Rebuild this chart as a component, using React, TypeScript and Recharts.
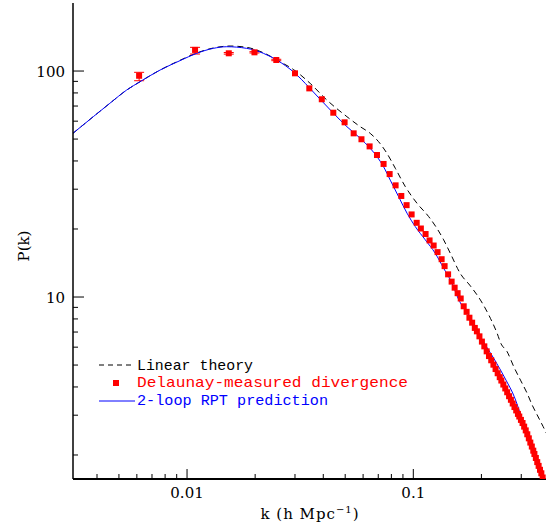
import React from 'react';
import { ComposedChart, Line, Scatter, XAxis, YAxis, ErrorBar } from 'recharts';

// Linear theory (black dashed)
const linearK = [0.00313, 0.00385, 0.00456, 0.00541, 0.0062, 0.0076, 0.0093, 0.01104, 0.01307, 0.0155, 0.01834, 0.02174, 0.02577, 0.02947, 0.035, 0.0415, 0.0509, 0.0583, 0.0645, 0.0702, 0.0765, 0.0833, 0.0922, 0.1038, 0.1169, 0.1273, 0.1362, 0.1458, 0.1614, 0.1787, 0.198, 0.2192, 0.2347, 0.2437, 0.2598, 0.2779, 0.2976, 0.3185, 0.3351, 0.3526, 0.3749, 0.3878];
const linearP = [53.0, 62.8, 72.0, 82.4, 89.7, 101.0, 111.5, 120.2, 126.5, 129.0, 127.3, 120.5, 109.9, 101.7, 88.2, 74.4, 62.8, 56.7, 53.0, 48.7, 43.2, 37.1, 30.8, 26.0, 22.7, 20.1, 17.9, 15.6, 12.7, 11.2, 9.7, 8.05, 6.91, 6.24, 5.73, 4.92, 4.29, 3.75, 3.33, 3.01, 2.67, 2.49];

// 2-loop RPT prediction (blue)
const rptK = [0.00313, 0.00385, 0.00456, 0.00541, 0.0062, 0.0076, 0.0093, 0.01104, 0.01307, 0.01498, 0.01834, 0.02174, 0.02491, 0.02982, 0.0346, 0.0388, 0.0444, 0.0509, 0.0583, 0.0645, 0.0691, 0.0739, 0.0791, 0.0861, 0.0938, 0.102, 0.113, 0.1251, 0.1362, 0.1484, 0.1577, 0.1787, 0.198, 0.2266, 0.2568, 0.2795, 0.2992];
const rptP = [53.0, 62.8, 72.0, 82.4, 89.7, 101.0, 111.1, 119.8, 126.0, 128.1, 126.0, 119.8, 111.9, 98.3, 84.7, 74.9, 65.0, 56.7, 50.4, 45.5, 41.8, 37.7, 32.9, 27.8, 23.5, 20.5, 17.9, 15.6, 13.4, 11.5, 9.87, 8.1, 6.67, 5.36, 4.29, 3.62, 2.98];

// Delaunay-measured divergence (red squares)
const measK = [0.00614, 0.01085, 0.01529, 0.01986, 0.0248, 0.0300, 0.0347, 0.0394, 0.0443, 0.0497, 0.0545, 0.0590, 0.0641, 0.0691, 0.0739, 0.0786, 0.0835, 0.0885, 0.0934, 0.0983, 0.1035, 0.108, 0.1133, 0.118, 0.123, 0.128, 0.1334, 0.1375, 0.1425, 0.1477, 0.1523, 0.157, 0.162, 0.167, 0.172, 0.177, 0.182, 0.187, 0.191, 0.196, 0.201, 0.206, 0.211, 0.216, 0.221, 0.226, 0.231, 0.236, 0.241, 0.245, 0.250, 0.255, 0.260, 0.265, 0.270, 0.275, 0.280, 0.285, 0.290, 0.294, 0.299, 0.304, 0.309, 0.314, 0.319, 0.324, 0.329, 0.334, 0.339, 0.343, 0.348, 0.353, 0.358, 0.363, 0.368, 0.373, 0.378, 0.383];
const measP = [95.3, 124.0, 119.8, 121.0, 111.9, 97.7, 83.8, 75.0, 65.4, 59.3, 53.0, 49.9, 46.4, 42.5, 38.8, 35.0, 31.2, 28.0, 25.5, 23.2, 21.3, 20.1, 19.0, 17.8, 16.9, 15.8, 14.7, 13.7, 12.6, 11.7, 11.0, 10.4, 9.85, 9.1, 8.6, 8.1, 7.7, 7.3, 7.05, 6.7, 6.35, 6.05, 5.75, 5.48, 5.25, 5.02, 4.80, 4.60, 4.42, 4.27, 4.10, 3.94, 3.79, 3.64, 3.51, 3.38, 3.26, 3.15, 3.04, 2.96, 2.86, 2.77, 2.67, 2.57, 2.47, 2.37, 2.27, 2.18, 2.09, 2.02, 1.94, 1.86, 1.79, 1.72, 1.66, 1.59, 1.53, 1.47];
// error bars only visible on the first few points
const measErrLow = [4.7, 5.1, 1.0, 0.8, 0.8];
const measErrHigh = [3.4, 3.3, 1.0, 0.8, 0.8];

const xTicks = [0.004, 0.005, 0.006, 0.007, 0.008, 0.009, 0.01, 0.02, 0.03, 0.04, 0.05, 0.06, 0.07, 0.08, 0.09, 0.1, 0.2, 0.3];
const yTicks = [2, 3, 4, 5, 6, 7, 8, 9, 10, 20, 30, 40, 50, 60, 70, 80, 90, 100];

const X_DOMAIN = [0.003133, 0.3859];
const Y_DOMAIN = [1.566, 200];

const linearData = linearK.map((k, i) => ({ k, p: linearP[i] }));
const rptData = rptK.map((k, i) => ({ k, p: rptP[i] }));
const measData = measK.map((k, i) => ({
  k,
  p: measP[i],
  err: i < measErrLow.length ? [measErrLow[i], measErrHigh[i]] : undefined,
}));

const SERIF = 'DejaVu Serif, serif';
const MONO = 'Liberation Mono, Courier New, monospace';

const isMajor = (v: number) => Math.abs(Math.log10(v) - Math.round(Math.log10(v))) < 1e-6;

const BottomTick = ({ x, y, payload }: any) => {
  const major = isMajor(payload.value);
  return (
    <g>
      <line x1={x} y1={y} x2={x} y2={y - (major ? 10 : 5)} stroke="#000" />
      {major && (
        <text x={x} y={y + 19} textAnchor="middle" fontFamily={SERIF} fontSize={15} fill="#000">
          {String(payload.value)}
        </text>
      )}
    </g>
  );
};

const TopTick = ({ x, y, payload }: any) => {
  const major = isMajor(payload.value);
  return <line x1={x} y1={y} x2={x} y2={y + (major ? 10 : 5)} stroke="#000" />;
};

const LeftTick = ({ x, y, payload }: any) => {
  const major = isMajor(payload.value);
  return (
    <g>
      <line x1={x} y1={y} x2={x + (major ? 11 : 5)} y2={y} stroke="#000" />
      {major && (
        <text x={x - 8} y={y + 5.5} textAnchor="end" fontFamily={SERIF} fontSize={15} fill="#000">
          {String(payload.value)}
        </text>
      )}
    </g>
  );
};

const RightTick = ({ x, y, payload }: any) => {
  const major = isMajor(payload.value);
  return <line x1={x} y1={y} x2={x - (major ? 9 : 5)} y2={y} stroke="#000" />;
};

const Square = (props: any) => {
  const { cx, cy } = props;
  if (cx == null || cy == null) return null;
  return <rect x={cx - 3} y={cy - 3} width={6} height={6} fill="#ff0000" />;
};

export default function App() {
  return (
    <div style={{ width: 546, height: 525, background: '#fff' }}>
      <style>{`body{margin:0;background:#fff}`}</style>
      <ComposedChart width={546} height={525} margin={{ top: 3, right: 0, bottom: 0, left: 0 }}>
        <XAxis
          xAxisId="b"
          dataKey="k"
          type="number"
          scale="log"
          domain={X_DOMAIN}
          allowDataOverflow
          ticks={xTicks}
          interval={0}
          height={46}
          tickSize={0}
          tickMargin={0}
          tickLine={false}
          tick={<BottomTick />}
          axisLine={{ stroke: '#000', strokeWidth: 2 }}
        />
        <XAxis
          xAxisId="t"
          orientation="top"
          dataKey="k"
          type="number"
          scale="log"
          domain={X_DOMAIN}
          allowDataOverflow
          ticks={xTicks}
          interval={0}
          height={0}
          tickSize={0}
          tickMargin={0}
          tickLine={false}
          tick={<TopTick />}
          axisLine={{ stroke: '#000', strokeWidth: 1.5 }}
        />
        <YAxis
          yAxisId="l"
          type="number"
          scale="log"
          domain={Y_DOMAIN}
          allowDataOverflow
          ticks={yTicks}
          interval={0}
          width={73}
          tickSize={0}
          tickMargin={0}
          tickLine={false}
          tick={<LeftTick />}
          axisLine={{ stroke: '#000', strokeWidth: 1.5 }}
        />
        <YAxis
          yAxisId="r"
          orientation="right"
          type="number"
          scale="log"
          domain={Y_DOMAIN}
          allowDataOverflow
          ticks={yTicks}
          interval={0}
          width={0}
          tickSize={0}
          tickMargin={0}
          tickLine={false}
          tick={<RightTick />}
          axisLine={false}
        />
        <Line
          xAxisId="b"
          yAxisId="l"
          data={linearData}
          dataKey="p"
          type="monotone"
          stroke="#000"
          strokeWidth={1}
          strokeDasharray="6 4"
          dot={false}
          activeDot={false}
          isAnimationActive={false}
        />
        <Scatter
          xAxisId="b"
          yAxisId="l"
          data={measData}
          dataKey="p"
          fill="#ff0000"
          shape={<Square />}
          isAnimationActive={false}
        >
          <ErrorBar dataKey="err" direction="y" width={5} stroke="#ff0000" strokeWidth={1} />
        </Scatter>
        <Line
          xAxisId="b"
          yAxisId="l"
          data={rptData}
          dataKey="p"
          type="monotone"
          stroke="#0000ff"
          strokeWidth={1}
          dot={false}
          activeDot={false}
          isAnimationActive={false}
        />
        <g>
          <text x={310} y={519} textAnchor="middle" fontFamily={SERIF} fontSize={15} fill="#000" letterSpacing={1}>
            <tspan>k (h  Mpc</tspan>
            <tspan dy={-6} fontSize={10}>−1</tspan>
            <tspan dy={6}>)</tspan>
          </text>
          <text
            x={0}
            y={0}
            transform="translate(29,246) rotate(-90)"
            textAnchor="middle"
            fontFamily={SERIF}
            fontSize={15}
            fill="#000"
          >
            P(k)
          </text>
          <line x1={99} y1={365} x2={135} y2={365} stroke="#000" strokeDasharray="5 4" />
          <text x={137} y={369.5} fontFamily={MONO} fontSize={15} fill="#000" textLength={116} lengthAdjust="spacingAndGlyphs">
            Linear theory
          </text>
          <rect x={113} y={380} width={6} height={6} fill="#ff0000" />
          <text x={137} y={387} fontFamily={MONO} fontSize={15} fill="#ff0000" textLength={271} lengthAdjust="spacingAndGlyphs">
            Delaunay-measured divergence
          </text>
          <line x1={99} y1={401} x2={135} y2={401} stroke="#0000ff" />
          <text x={137} y={405} fontFamily={MONO} fontSize={15} fill="#0000ff" textLength={191} lengthAdjust="spacingAndGlyphs">
            2-loop RPT prediction
          </text>
        </g>
      </ComposedChart>
    </div>
  );
}
